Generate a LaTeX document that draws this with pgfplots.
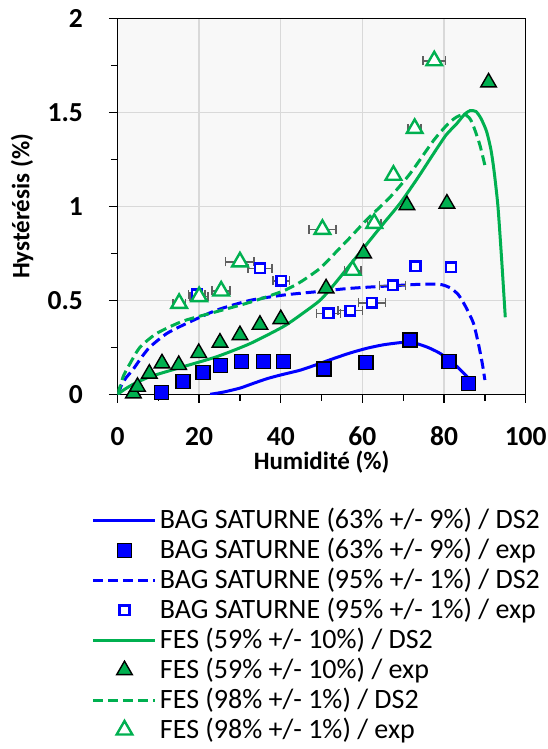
\documentclass[border=0pt]{standalone}
\usepackage{fontspec}
\setmainfont{Carlito}
\usepackage{pgfplots}
\pgfplotsset{compat=1.18}
\definecolor{cblue}{HTML}{0000FF}
\definecolor{cgreen}{HTML}{00B050}
\definecolor{cgrid}{HTML}{D9D9D9}
\definecolor{cbg}{HTML}{F8F8F8}
\definecolor{cerr}{HTML}{5F5F5F}
\pgfplotsset{
  linelegend/.style={legend image code/.code={\draw[##1] (0bp,0bp) -- (62bp,0bp);}},
  marklegend/.style={legend image code/.code={\draw[mark repeat=2,mark phase=2,##1] plot coordinates {(0bp,0bp) (31bp,0bp) (62bp,0bp)};}},
  lsolid/.style={line width=3bp, line cap=butt},
  ldash/.style={line width=3bp, line cap=butt, dash pattern=on 10bp off 5bp},
  msqfill/.style={only marks, mark=square*, mark size=7bp, draw=black, fill=cblue, line width=1.4bp},
  msqopen/.style={only marks, mark=square*, mark size=4.8bp, draw=cblue, fill=white, line width=2.5bp},
  mtrifill/.style={only marks, mark=triangle*, mark size=9bp, draw=black, fill=cgreen, line width=1.4bp},
  mtriopen/.style={only marks, mark=triangle*, mark size=9bp, draw=cgreen, fill=white, line width=2.4bp},
  errb/.style={only marks, mark=none, forget plot,
    error bars/.cd, x dir=both, x explicit,
    error bar style={cerr, line width=1.5bp, solid},
    error mark options={cerr, line width=1.5bp, mark size=4.5bp, rotate=90}},
}
\begin{document}
\begin{tikzpicture}
\path[use as bounding box] (-117.5bp,-354.7bp) rectangle (430.5bp,394.3bp);
\begin{axis}[
  at={(0,0)}, anchor=south west,
  scale only axis, width=408.2bp, height=375.8bp,
  xmin=0, xmax=100, ymin=0, ymax=2,
  xtick={0,20,...,100}, minor xtick={10,30,...,90},
  ytick={0,0.5,1,1.5,2}, minor ytick={0.25,0.75,1.25,1.75},
  tick align=outside, tick pos=left,
  major tick length=8.5bp, minor tick length=6.5bp,
  grid=major, major grid style={cgrid, line width=1.3bp},
  axis line style={black, line width=1.3bp},
  every tick/.style={black, line width=1.3bp},
  axis background/.style={fill=cbg},
  /pgf/number format/assume math mode=true,
  ticklabel style={font=\fontsize{27.5bp}{30bp}\selectfont\bfseries, inner sep=0pt},
  xticklabel style={anchor=center, yshift=-33.7bp},
  yticklabel style={anchor=east, xshift=-26bp},
  xlabel={Humidité (\%)}, ylabel={Hystérésis (\%)},
  label style={font=\fontsize{25bp}{28bp}\selectfont\bfseries},
  xlabel style={at={(axis description cs:0.5,-0.18)}, anchor=center},
  ylabel style={at={(axis description cs:-0.234,0.5)}, anchor=center},
  legend cell align=left,
  legend style={draw=none, fill=none, at={(0,0)}, anchor=north west,
    xshift=-25.5bp, yshift=-111.4bp, inner sep=0pt, outer sep=0pt,
    font=\fontsize{28bp}{30bp}\selectfont,
    nodes={inner xsep=3bp, inner ysep=0pt, text height=23bp, text depth=6.9bp},
    row sep=0pt},
]
% ---- DS2 curves ----
\addplot[cblue, lsolid, smooth, tension=0.4, forget plot] coordinates {
(22.7,0) (26,0.012) (30,0.033) (33,0.056) (36.6,0.083) (40,0.103) (44.7,0.128) (48,0.152) (52.9,0.19) (57,0.22) (61.1,0.245) (65,0.263) (69.2,0.275) (71.5,0.277) (73.3,0.27) (76,0.25) (79,0.218) (82.3,0.165) (85.6,0.095) (86.3,0.075)};
\addplot[cblue, ldash, smooth, tension=0.4, forget plot] coordinates {
(0.3,0) (0.8,0.04) (2,0.085) (3.9,0.135) (6,0.2) (8,0.253) (12.1,0.324) (17,0.378) (24.3,0.448) (32.5,0.50) (40.6,0.528) (48.8,0.546) (57,0.564) (69.2,0.58) (76,0.587) (79.5,0.583) (81.6,0.565) (83.5,0.53) (85.2,0.47) (87.2,0.378) (88.5,0.26) (89.4,0.16) (90,0.076)};
\addplot[cgreen, lsolid, smooth, tension=0.4, forget plot] coordinates {
(0,0) (2,0.03) (4,0.055) (8,0.094) (16.1,0.147) (24.3,0.2) (32.5,0.27) (40.6,0.36) (45,0.425) (49.6,0.50) (52.9,0.58) (57,0.69) (61.1,0.80) (65,0.905) (69.2,1.016) (73.5,1.15) (77.4,1.28) (80.5,1.38) (83.1,1.44) (85,1.49) (86.4,1.51) (87.8,1.505) (89,1.47) (90.4,1.40) (91.5,1.30) (92.3,1.18) (93.2,1.0) (94.1,0.72) (95,0.41)};
\addplot[cgreen, ldash, smooth, tension=0.4, forget plot] coordinates {
(0,0) (0.6,0.04) (1.5,0.1) (3.1,0.165) (5.5,0.25) (9.6,0.324) (16.1,0.39) (24.3,0.44) (32.5,0.49) (40.6,0.55) (45,0.60) (49.6,0.67) (53,0.745) (57,0.835) (61.1,0.93) (66.8,1.05) (71.7,1.175) (77.4,1.35) (81,1.44) (83.1,1.476) (85,1.49) (86.4,1.465) (87.5,1.41) (88.8,1.325) (90.1,1.21)};
% ---- error bars ----
\addplot[errb] table[x=x, y=y, x error=e] {
x y e
15.1 0.484 1.5
20.0 0.520 2.2
25.4 0.550 2.2
30.0 0.705 3.5
50.2 0.878 3.3
57.6 0.660 2.0
62.9 0.910 1.6
72.8 1.415 1.6
77.6 1.775 2.7
19.4 0.532 2.0
34.9 0.670 2.9
40.1 0.604 2.0
51.7 0.431 2.9
57.0 0.445 3.0
62.3 0.487 3.3
67.4 0.580 3.2
};
% ---- experimental points ----
\addplot[msqfill, forget plot] coordinates {
(10.8,0.01) (16.0,0.067) (20.9,0.117) (25.3,0.152) (30.4,0.173) (35.7,0.173) (40.6,0.173) (50.6,0.135) (60.9,0.168) (71.7,0.289) (81.2,0.173) (86.0,0.058)};
\addplot[msqopen, forget plot] coordinates {
(19.4,0.532) (34.9,0.670) (40.1,0.604) (51.7,0.431) (57.0,0.445) (62.3,0.487) (67.4,0.580) (73.0,0.682) (81.7,0.676)};
\addplot[mtrifill, forget plot] coordinates {
(3.9,0.005) (4.9,0.04) (7.8,0.11) (10.9,0.165) (15.0,0.156) (19.9,0.22) (25.1,0.275) (30.0,0.315) (34.9,0.37) (40.0,0.40) (51.1,0.564) (60.3,0.75) (70.9,1.007) (80.7,1.015) (90.9,1.66)};
\addplot[mtriopen, forget plot] coordinates {
(15.1,0.484) (20.0,0.520) (25.4,0.550) (30.0,0.705) (50.2,0.878) (57.6,0.660) (62.9,0.910) (67.6,1.166) (72.8,1.415) (77.6,1.775)};
% ---- legend ----
\addlegendimage{linelegend, cblue, lsolid}
\addlegendentry{BAG SATURNE (63\% +/- 9\%) / DS2}
\addlegendimage{marklegend, msqfill}
\addlegendentry{BAG SATURNE (63\% +/- 9\%) / exp}
\addlegendimage{linelegend, cblue, ldash}
\addlegendentry{BAG SATURNE (95\% +/- 1\%) / DS2}
\addlegendimage{marklegend, msqopen}
\addlegendentry{BAG SATURNE (95\% +/- 1\%) / exp}
\addlegendimage{linelegend, cgreen, lsolid}
\addlegendentry{FES (59\% +/- 10\%) / DS2}
\addlegendimage{marklegend, mtrifill}
\addlegendentry{FES (59\% +/- 10\%) / exp}
\addlegendimage{linelegend, cgreen, ldash}
\addlegendentry{FES (98\% +/- 1\%) / DS2}
\addlegendimage{marklegend, mtriopen}
\addlegendentry{FES (98\% +/- 1\%) / exp}
\end{axis}
\end{tikzpicture}
\end{document}
